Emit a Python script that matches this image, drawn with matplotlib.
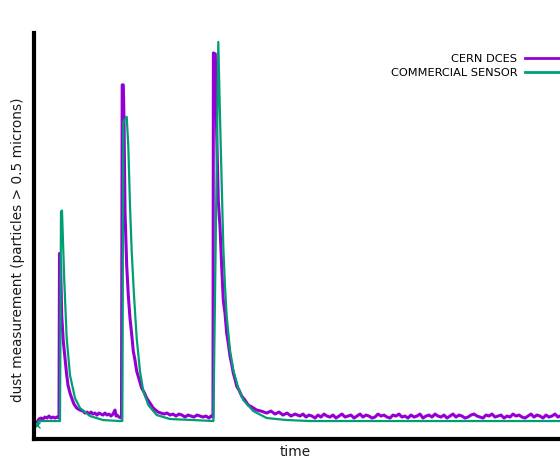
import matplotlib
matplotlib.use("Agg")
import matplotlib.pyplot as plt
import numpy as np

# %% data (time / counts in arbitrary units)
dces_t = ([2, 4, 6, 8, 10, 12, 14, 16, 18, 20, 22, 24,
           24.5, 25.5, 26.7, 28.3, 30, 31.5, 33, 35, 36.7, 39, 41.7, 45,
           48, 50, 52, 54, 56, 58, 60, 62, 64, 66, 68, 70, 72, 74, 76, 78,
           80, 81, 82, 84, 86.5,
           87.2, 88.3, 89, 90, 91.7, 93.3, 95, 96.7, 98.3, 100, 101.7, 104,
           106.7, 109, 111.7, 115, 118.3,
           123, 126, 129, 132, 135, 138, 141, 144, 147, 150, 153, 156, 159,
           162, 165, 168, 171, 174, 176, 178,
           178.4, 180.3, 181.7, 183.3, 185, 186.7, 188.3, 190, 191.7, 193.3,
           195, 196.7, 198.3, 200, 201.7, 204, 206.7, 210, 213.3, 217,
           221.7, 226, 231.7, 236, 240, 244, 248, 252, 256, 260]
          + list(range(265, 524, 3)) + [525])
dces_v = [16, 19, 20, 19, 21, 20, 22, 20, 21, 20, 21, 20,
          185, 178, 123, 97, 80, 65, 53, 45, 40, 34, 30, 28,
          27, 25, 26, 24, 26, 24, 25, 23, 25, 24, 23, 25, 23, 24, 22, 24,
          28, 22, 23, 21, 20,
          354, 354, 320, 227, 173, 143, 120, 104, 87, 78, 67, 59,
          50, 46, 40, 35, 30,
          26, 25, 24, 25, 23, 24, 22, 24, 23, 21, 23, 22, 21,
          23, 22, 21, 22, 20, 22, 21,
          386, 385, 305, 238, 212, 172, 138, 125, 105, 95,
          82, 74, 65, 59, 52, 48, 42, 38, 33, 31,
          28, 27, 25, 27, 24, 26, 23, 25, 22, 24,
          22, 24, 21, 23, 22, 20, 23, 21, 24, 22,
          21, 23, 20, 22, 24, 21, 22, 23, 20, 22,
          24, 21, 23, 22, 20, 21, 24, 22, 23, 21,
          20, 23, 22, 24, 21, 22, 20, 23, 21, 22,
          24, 20, 22, 23, 21, 24, 22, 21, 23, 20,
          22, 24, 21, 23, 22, 20, 21, 23, 24, 22,
          21, 20, 23, 22, 24, 21, 22, 23, 20, 22,
          21, 24, 22, 23, 21, 20, 22, 24, 21, 23,
          22, 20, 23, 21, 22, 24, 21,
          22]

sensor_t = [2, 4, 25, 26, 27, 29.3, 31.7, 35, 40, 45, 55, 68, 85,
            87.3, 88.3, 91.7, 93.3, 95, 96.7, 99, 101.7, 105, 108.3, 113.3,
            121.7, 135, 158, 178,
            178.4, 183.3, 185, 186.7, 188.3, 190, 191.7, 195, 198.3, 203.3,
            208.3, 218.3, 231.7, 251.7, 275, 525]
sensor_v = [13, 17, 17, 227, 228, 157, 100, 63, 40, 30, 22, 18, 17,
            17, 317, 322, 293, 233, 187, 143, 100, 67, 47, 33,
            23, 19, 18, 17,
            17, 397, 322, 255, 192, 152, 122, 88, 68, 50,
            38, 27, 20, 18, 17, 17]

labels = ["CERN DCES", "COMMERCIAL SENSOR"]
colors = ["#9400d3", "#009e73"]

# %%
fig = plt.figure(figsize=(5.6, 4.59), dpi=100)
ax = fig.add_axes([0.0616, 0.0436, 0.9384, 0.8845])

ax.plot(dces_t, dces_v, color=colors[0], lw=2.2, label=labels[0])
ax.plot(sensor_t, sensor_v, color=colors[1], lw=1.6, label=labels[1])
ax.plot(sensor_t[0], sensor_v[0], "x", color=colors[1], ms=4, mew=1)

ax.set_xlim(-0.5, 525)
ax.set_ylim(-1, 406)
ax.set_xticks([])
ax.set_yticks([])
for side in ["top", "right"]:
    ax.spines[side].set_visible(False)
for side in ["left", "bottom"]:
    ax.spines[side].set_linewidth(3)

leg = ax.legend(loc="upper right", bbox_to_anchor=(0.999, 0.882),
                bbox_transform=fig.transFigure, frameon=False,
                markerfirst=False, fontsize=8.2, handlelength=3.0,
                handletextpad=0.7, labelspacing=0.3, borderpad=0,
                borderaxespad=0)
for line in leg.get_lines():
    line.set_linewidth(2)

fig.text(18 / 560, 1 - 250 / 459, "dust measurement (particles > 0.5 microns)",
         rotation=90, ha="center", va="center", fontsize=9.8, color="#1a1a1a")
fig.text(295 / 560, 1 - 452 / 459, "time", ha="center", va="center",
         fontsize=9.8, color="#1a1a1a")

fig.savefig("out.png", dpi=100)
